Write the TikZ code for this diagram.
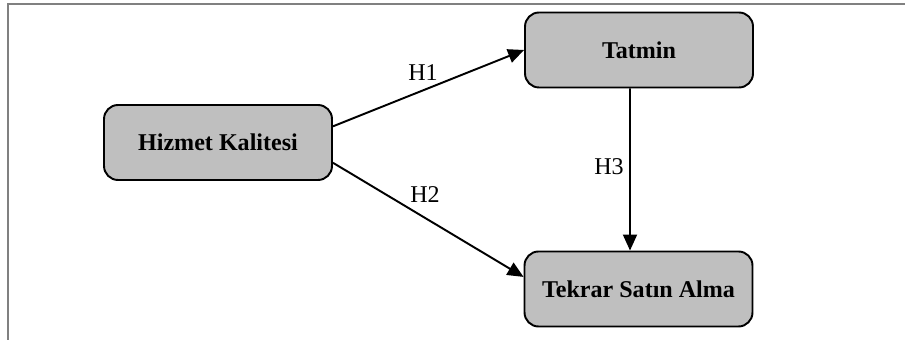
\documentclass[tikz,border=0pt]{standalone}
\usepackage{fontspec}
\setmainfont{Liberation Serif}
\usetikzlibrary{arrows.meta}

\begin{document}
\begin{tikzpicture}[x=0.02cm, y=0.02cm, >={Triangle[length=0.32cm, width=0.28cm]}]
    %--------------------%
    % Parameters
    %--------------------%
    \def\boxwidth{4.56cm}
    \def\boxheight{1.5cm}
    \def\linethic{1.1pt}
    \def\fsize{\fontsize{13.7}{16}\selectfont}

    \tikzset{
        construct/.style={draw=black, fill=gray!50, rounded corners=0.28cm,
            minimum width=\boxwidth, minimum height=\boxheight,
            line width=\linethic, font=\fsize\bfseries},
        hypo/.style={font=\fsize},
        path/.style={->, line width=\linethic}
    }

    %--------------------%
    % Frame
    %--------------------%
    \useasboundingbox (0,0) rectangle (905,340);
    \draw[gray, line width=0.04cm] (8,0) -- (8,336) -- (905,336);

    %--------------------%
    % Constructs
    %--------------------%
    \node[construct] (hizmet) at (218,197.5) {Hizmet Kalitesi};
    \node[construct] (tatmin) at (639,290) {Tatmin};
    \node[construct] (tekrar) at (638.5,51) {Tekrar Satın Alma};

    %--------------------%
    % Connections
    %--------------------%
    \draw[path] (hizmet.8) -- (tatmin.west);
    \draw[path] (hizmet.-10) -- (tekrar.174);
    \draw[path] ([xshift=-0.18cm]tatmin.south) -- ([xshift=-0.17cm]tekrar.north);

    %--------------------%
    % Hypothesis Labels
    %--------------------%
    \node[hypo] (h1) at (423,267) {H1};
    \node[hypo] (h2) at (425,145) {H2};
    \node[hypo] (h3) at (609,173) {H3};
\end{tikzpicture}
\end{document}
